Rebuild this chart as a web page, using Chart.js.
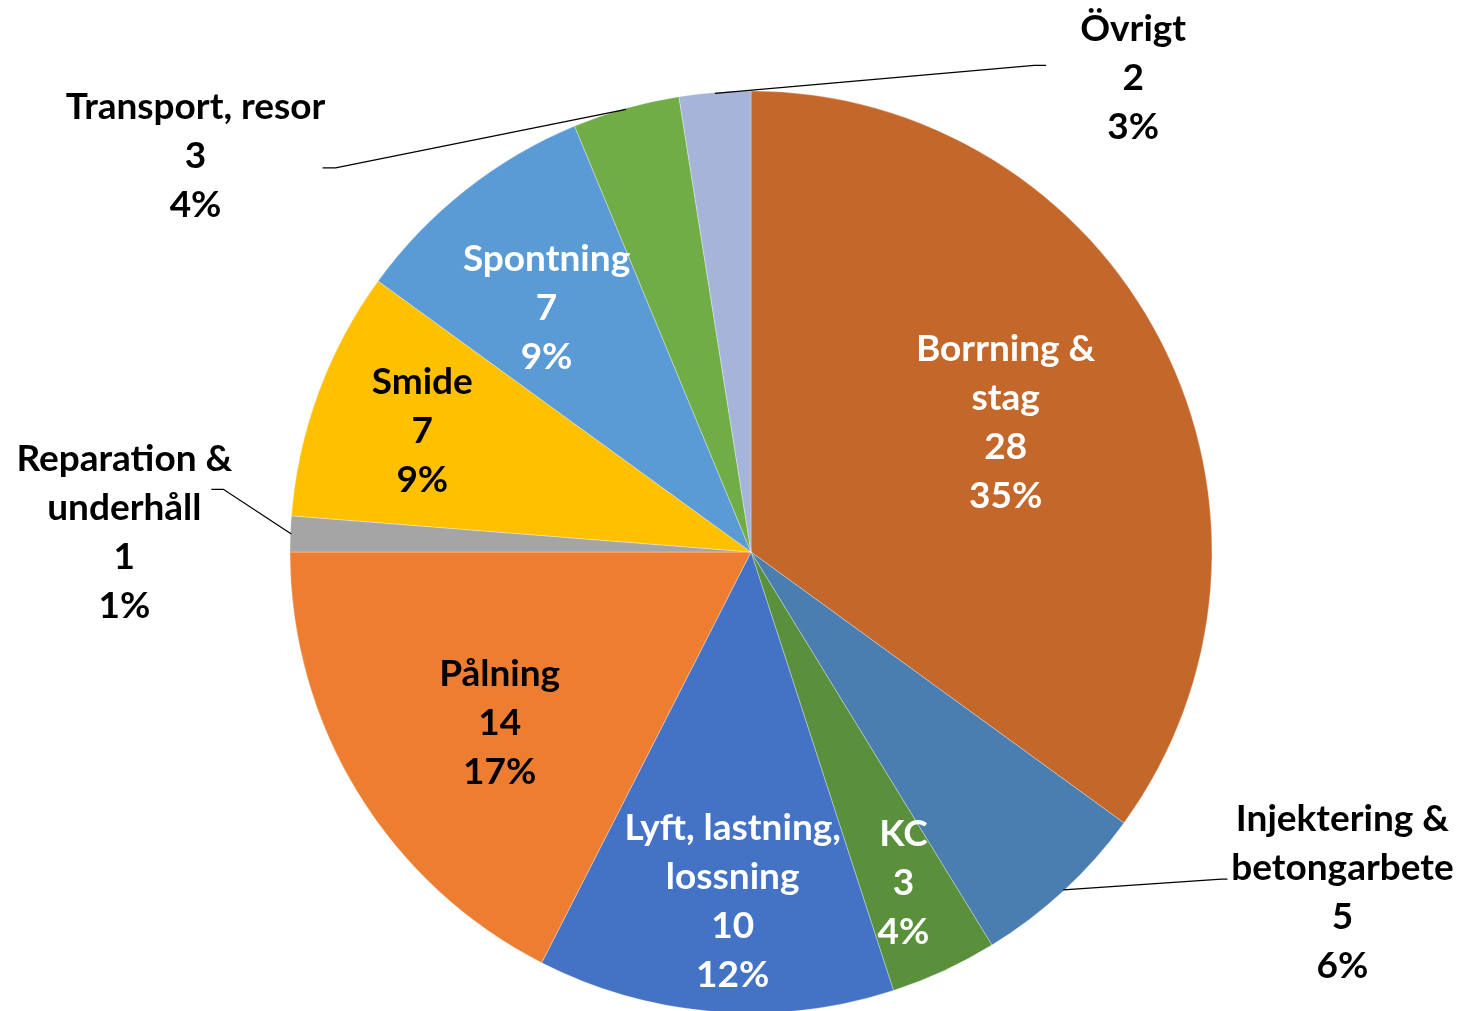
<!DOCTYPE html>
<html>
<head>
<meta charset="utf-8">
<script src="https://cdn.jsdelivr.net/npm/chart.js@4"></script>
<style>
  html, body { margin: 0; padding: 0; background: #fff; }
  #wrap { width: 1462px; height: 1011px; }
</style>
</head>
<body>
<div id="wrap"><canvas id="graficoPizza" width="1462" height="1011"></canvas></div>
<script>
// data
const kategorier = ['Borrning &\nstag', 'Injektering &\nbetongarbete', 'KC', 'Lyft, lastning,\nlossning',
  'Pålning', 'Reparation &\nunderhåll', 'Smide', 'Spontning', 'Transport, resor', 'Övrigt'];
const antal = [28, 5, 3, 10, 14, 1, 7, 7, 3, 2];
const procent = ['35%', '6%', '4%', '12%', '17%', '1%', '9%', '9%', '4%', '3%'];

const farger = ['#C4672B', '#4A7EB0', '#5A8F3B', '#4472C4', '#ED7D31',
  '#A5A5A5', '#FFC000', '#5B9BD5', '#70AD47', '#A6B4DA'];
const textFarg = ['#fff', '#000', '#fff', '#fff', '#000', '#000', '#000', '#fff', '#000', '#000'];

// label placement: [angle in deg from 12 o'clock or null = mid angle, distance as fraction of radius]
const etikettPlats = [[null, 0.62], [119.9, 1.48], [null, 0.79], [183, 0.76], [235.7, 0.66],
  [271.8, 1.36], [null, 0.76], [320, 0.69], [305.5, 1.48], [38.9, 1.32]];
// leader line: label-side end relative to label centre, and horizontal stub length
const ledare = [null, [-115, -13, -6], null, null, null, [87, -43, 12], null, null, [127, 12, 13], [-87, -13, -12]];

const etiketter = {
  id: 'etiketter',
  afterDatasetsDraw(chart) {
    const ctx = chart.ctx;
    const arcs = chart.getDatasetMeta(0).data;
    ctx.save();
    ctx.font = 'bold 37px Lato, "Open Sans", sans-serif';
    ctx.textAlign = 'center';
    ctx.textBaseline = 'middle';
    arcs.forEach((arc, i) => {
      const { x, y, startAngle, endAngle, outerRadius } = arc.getProps(['x', 'y', 'startAngle', 'endAngle', 'outerRadius'], true);
      const mid = (startAngle + endAngle) / 2;
      const [deg, frac] = etikettPlats[i];
      const ang = deg === null ? mid : (deg - 90) * Math.PI / 180;
      const cx = x + Math.cos(ang) * outerRadius * frac;
      const cy = y + Math.sin(ang) * outerRadius * frac;

      if (ledare[i]) {
        const [ldx, ldy, stub] = ledare[i];
        const ex = cx + ldx, ey = cy + ldy;
        ctx.strokeStyle = '#000';
        ctx.lineWidth = 1.3;
        ctx.beginPath();
        ctx.moveTo(x + Math.cos(mid) * (outerRadius - 1), y + Math.sin(mid) * (outerRadius - 1));
        ctx.lineTo(ex + stub, ey);
        ctx.lineTo(ex, ey);
        ctx.stroke();
      }

      const rader = kategorier[i].split('\n').concat([String(antal[i]), procent[i]]);
      const lh = 49;
      const y0 = cy - (rader.length - 1) * lh / 2;
      ctx.fillStyle = textFarg[i];
      rader.forEach((r, k) => ctx.fillText(r, cx, y0 + k * lh));
    });
    ctx.restore();
  }
};

const ctx = document.getElementById('graficoPizza').getContext('2d');
new Chart(ctx, {
  type: 'pie',
  data: {
    labels: kategorier,
    datasets: [{
      data: antal,
      backgroundColor: farger,
      borderColor: 'rgba(255,255,255,0.5)',
      borderWidth: 0.6,
      radius: 461
    }]
  },
  options: {
    responsive: false,
    animation: false,
    layout: { padding: { left: 40, top: 93, right: 0, bottom: 0 } },
    plugins: {
      legend: { display: false },
      tooltip: { enabled: false }
    }
  },
  plugins: [etiketter]
});
</script>
</body>
</html>
